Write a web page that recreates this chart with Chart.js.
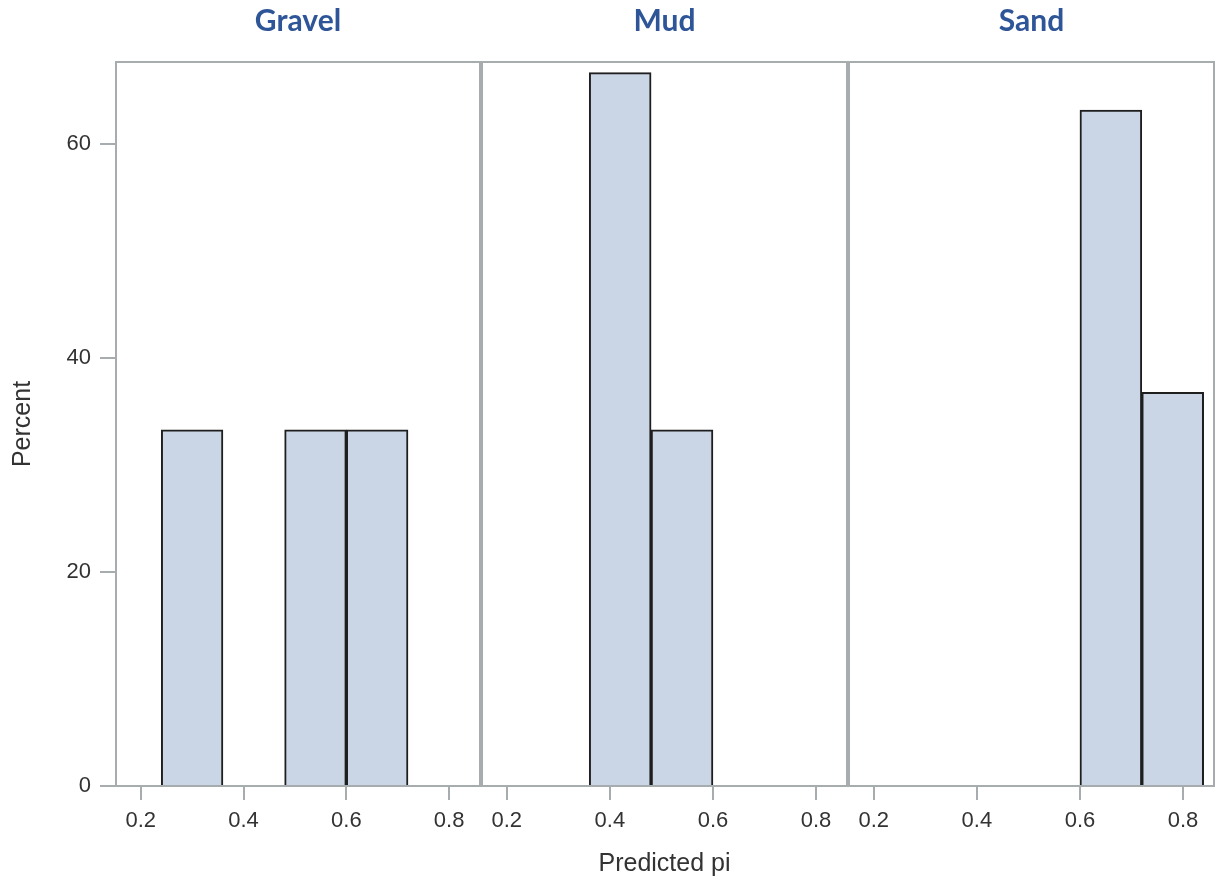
<!DOCTYPE html>
<html>
<head>
<meta charset="utf-8">
<title>Predicted pi by substrate</title>
<script src="https://cdn.jsdelivr.net/npm/chart.js@4.4.1/dist/chart.umd.min.js"></script>
<style>
  html, body { margin: 0; padding: 0; background: #fff; }
  #wrap { position: relative; width: 1215px; height: 882px; }
  #wrap canvas { position: absolute; top: 0; }
</style>
</head>
<body>
<div id="wrap">
  <canvas id="gravel" width="481" height="882" style="left:0px"></canvas>
  <canvas id="mud" width="367" height="882" style="left:481px"></canvas>
  <canvas id="sand" width="367" height="882" style="left:848px"></canvas>
</div>
<script>
// histogram bins (width 0.12) and percent of observations per bin
const binMids = [0.30, 0.42, 0.54, 0.66, 0.78];
const gravelPct = [33.3, null, 33.3, 33.3, null];
const mudPct = [null, 66.7, 33.3, null, null];
const sandPct = [null, null, null, 63.2, 36.8];
const xTicks = [0.2, 0.4, 0.6, 0.8];
const yTicks = [0, 20, 40, 60];

const X_MIN = 0.15, X_MAX = 0.862;
const Y_MAX = 67.7;

const FONT = "'Liberation Sans', Arial, sans-serif";
const TEXT = '#333333';
const FRAME = '#a7acaf';

// box around each panel's plot area
const panelFrame = {
  id: 'panelFrame',
  afterDatasetsDraw(chart) {
    const { ctx, chartArea: a } = chart;
    ctx.save();
    ctx.strokeStyle = FRAME;
    ctx.lineWidth = 2;
    ctx.strokeRect(a.left + 1, a.top, a.width - 2, a.bottom - a.top);
    ctx.restore();
  }
};

function makePanel(id, name, pct, showY, showXTitle) {
  return new Chart(document.getElementById(id), {
    type: 'bar',
    data: {
      datasets: [{
        data: binMids.map((x, i) => ({ x, y: pct[i] })),
        backgroundColor: '#cad5e5',
        borderColor: '#1e1e1e',
        borderWidth: 2,
        borderSkipped: 'start',
        barPercentage: 1,
        categoryPercentage: 1
      }]
    },
    options: {
      responsive: false,
      animation: false,
      layout: { padding: 0 },
      plugins: {
        legend: { display: false },
        tooltip: { enabled: false },
        title: {
          display: true,
          text: name,
          fullSize: false,
          color: '#2e5597',
          font: { family: "Lato, 'Open Sans', sans-serif", size: 30, weight: 'bold' },
          padding: { top: 3, bottom: 23 }
        }
      },
      scales: {
        x: {
          type: 'linear',
          min: X_MIN,
          max: X_MAX,
          bounds: 'data',
          offset: false,
          afterBuildTicks: s => { s.ticks = xTicks.map(v => ({ value: v })); },
          afterFit: s => { s.height = 96; },
          border: { display: false },
          grid: { display: true, drawOnChartArea: false, offset: false, tickLength: 14, color: FRAME, lineWidth: 2 },
          ticks: {
            padding: 8,
            color: TEXT,
            font: { family: FONT, size: 22 },
            callback: v => v.toFixed(1)
          },
          title: {
            display: showXTitle,
            text: 'Predicted pi',
            color: TEXT,
            font: { family: FONT, size: 25 },
            padding: { top: 0, bottom: 3 }
          }
        },
        y: {
          display: showY,
          min: 0,
          max: Y_MAX,
          bounds: 'data',
          afterBuildTicks: s => { s.ticks = yTicks.map(v => ({ value: v })); },
          afterFit: s => { if (showY) s.width = 115; },
          border: { display: false },
          grid: { display: true, drawOnChartArea: false, tickLength: 15, color: FRAME, lineWidth: 2 },
          ticks: {
            padding: 9,
            color: TEXT,
            font: { family: FONT, size: 22 }
          },
          title: {
            display: true,
            text: 'Percent',
            color: TEXT,
            font: { family: FONT, size: 25 },
            padding: { top: 8, bottom: 0 }
          }
        }
      }
    },
    plugins: [panelFrame]
  });
}

makePanel('gravel', 'Gravel', gravelPct, true, false);
makePanel('mud', 'Mud', mudPct, false, true);
makePanel('sand', 'Sand', sandPct, false, false);
</script>
</body>
</html>
